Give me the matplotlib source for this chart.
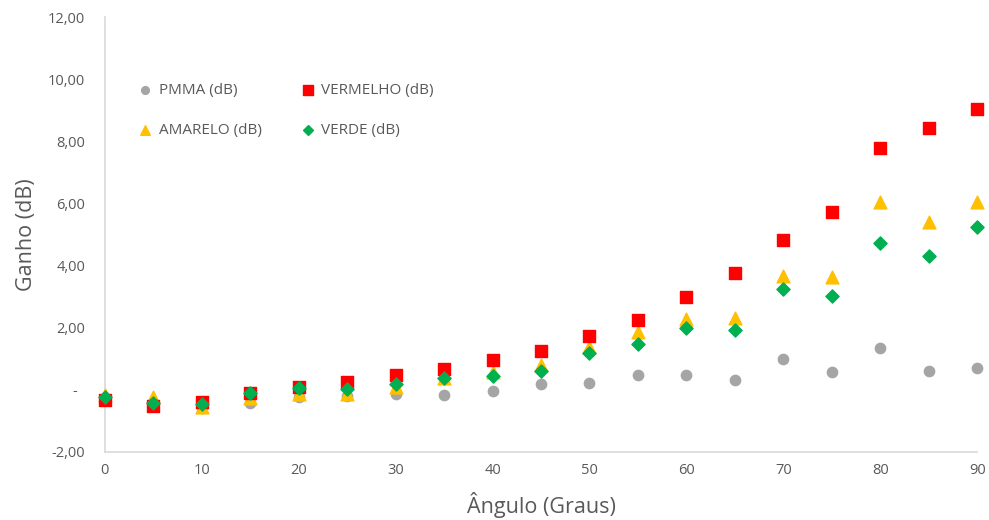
import numpy as np
import matplotlib.pyplot as plt
import matplotlib.ticker as ticker

#--------- data ---------
angulo = [0, 5, 10, 15, 20, 25, 30, 35, 40, 45, 50, 55, 60, 65, 70, 75, 80, 85, 90]

pmma = [-0.30, -0.45, -0.60, -0.43, -0.23, -0.20, -0.12, -0.16, -0.03, 0.18, 0.23,
        0.48, 0.48, 0.32, 1.00, 0.58, 1.35, 0.62, 0.70]
vermelho = [-0.33, -0.53, -0.40, -0.09, 0.09, 0.24, 0.49, 0.66, 0.95, 1.26, 1.73,
            2.25, 2.98, 3.75, 4.82, 5.73, 7.80, 8.44, 9.04]
amarelo = [-0.18, -0.22, -0.55, -0.26, -0.14, -0.14, 0.10, 0.37, 0.57, 0.80, 1.39,
           1.87, 2.27, 2.30, 3.68, 3.63, 6.05, 5.39, 6.05]
verde = [-0.24, -0.41, -0.45, -0.11, 0.07, 0.02, 0.19, 0.39, 0.45, 0.62, 1.20,
         1.48, 1.98, 1.93, 3.24, 3.02, 4.74, 4.31, 5.25]

#--------- style ---------
plt.rcParams['font.family'] = ['Open Sans', 'DejaVu Sans']
TXT = '#595959'
SPINE = '#d9d9d9'

def fmt_ganho(v, pos):
    if abs(v) < 1e-9:
        return '-  '
    return ('%.2f' % v).replace('.', ',')

#--------- plot ---------
fig = plt.figure(figsize=(9.89, 5.2), dpi=100)
ax = fig.add_axes([0.106, 0.131, 0.882, 0.836])

ax.scatter(angulo, pmma, marker='o', s=55, color='#a5a5a5', label='PMMA (dB)', zorder=2, clip_on=False)
ax.scatter(angulo, amarelo, marker='^', s=85, color='#ffc000', label='AMARELO (dB)', zorder=3, clip_on=False)
ax.scatter(angulo, vermelho, marker='s', s=75, color='#ff0000', label='VERMELHO (dB)', zorder=3, clip_on=False)
ax.scatter(angulo, verde, marker='D', s=45, color='#00b050', label='VERDE (dB)', zorder=4, clip_on=False)

ax.set_xlim(0, 90)
ax.set_ylim(-2, 12)
ax.xaxis.set_major_locator(ticker.MultipleLocator(10))
ax.yaxis.set_major_locator(ticker.MultipleLocator(2))
ax.yaxis.set_major_formatter(ticker.FuncFormatter(fmt_ganho))

for s in ['top', 'right']:
    ax.spines[s].set_visible(False)
for s in ['left', 'bottom']:
    ax.spines[s].set_color(SPINE)
    ax.spines[s].set_linewidth(1.2)
    ax.spines[s].set_zorder(1)

ax.tick_params(axis='both', length=0, colors=TXT, labelsize=10.5)
ax.tick_params(axis='y', pad=14)
ax.tick_params(axis='x', pad=8)

ax.set_xlabel('Ângulo (Graus)', fontsize=15.5, color=TXT, labelpad=10)
ax.set_ylabel('Ganho (dB)', fontsize=15.5, color=TXT, labelpad=8)

leg = ax.legend(loc='upper left', bbox_to_anchor=(0.013, 0.88), ncol=2, frameon=False,
                fontsize=11, labelcolor=TXT, handletextpad=-0.1, columnspacing=2.0,
                labelspacing=1.6, markerscale=0.75)

fig.savefig('out.png', dpi=100)
